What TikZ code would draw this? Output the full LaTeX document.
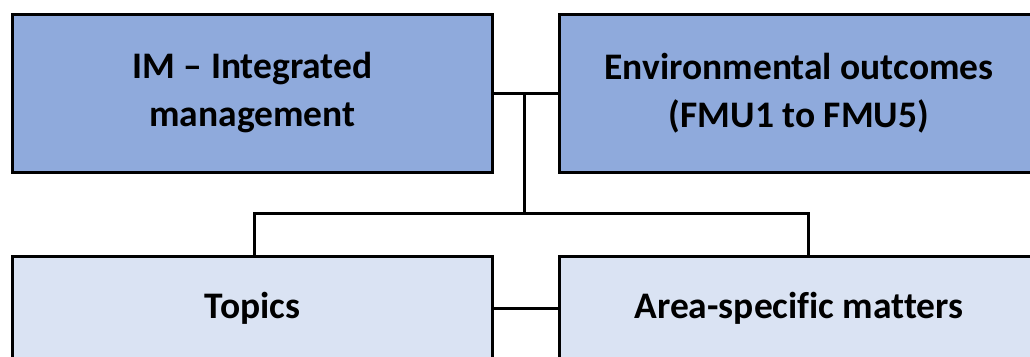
\documentclass[tikz,border=0pt]{standalone}
\usepackage{fontspec}
\setmainfont{Carlito}[Ligatures=NoCommon]
\usepackage{tikz}
\usetikzlibrary{positioning}
\definecolor{headblue}{HTML}{8FAADC}
\definecolor{subblue}{HTML}{DAE3F3}
\tikzset{
  box/.style={draw=black, line width=3bp, rectangle, align=center,
    font=\fontsize{37.5bp}{48bp}\selectfont\bfseries, inner sep=0pt},
  topbox/.style={box, fill=headblue, minimum width=479bp, minimum height=158bp},
  subbox/.style={box, fill=subblue, minimum width=479bp, minimum height=104bp},
  link/.style={line width=3bp, line cap=rect}
}
\begin{document}
\begin{tikzpicture}[x=1bp,y=-1bp]
    \useasboundingbox (0,0) rectangle (1030,356);
    \clip (0,0) rectangle (1030,356);
    \node[topbox] (im)     at (252.5,93) {IM – Integrated\\management};
    \node[topbox] (env)    at (799,93)   {Environmental outcomes\\(FMU1 to FMU5)};
    \node[subbox] (topics) at (252.5,308) {Topics};
    \node[subbox] (area)   at (799,308)  {Area-specific matters};
    % branch points of the tree
    \coordinate (hub)     at (524,213);
    \coordinate (split l) at (254,213);
    \coordinate (split r) at (808,213);
    \draw[link] (im.east) -- (env.west);
    \draw[link] (hub |- im.east) -- (hub);
    \draw[link] (split l |- topics.north) -- (split l) -- (split r) -- (split r |- area.north);
    \draw[link] (topics.east) -- (area.west);
\end{tikzpicture}
\end{document}
